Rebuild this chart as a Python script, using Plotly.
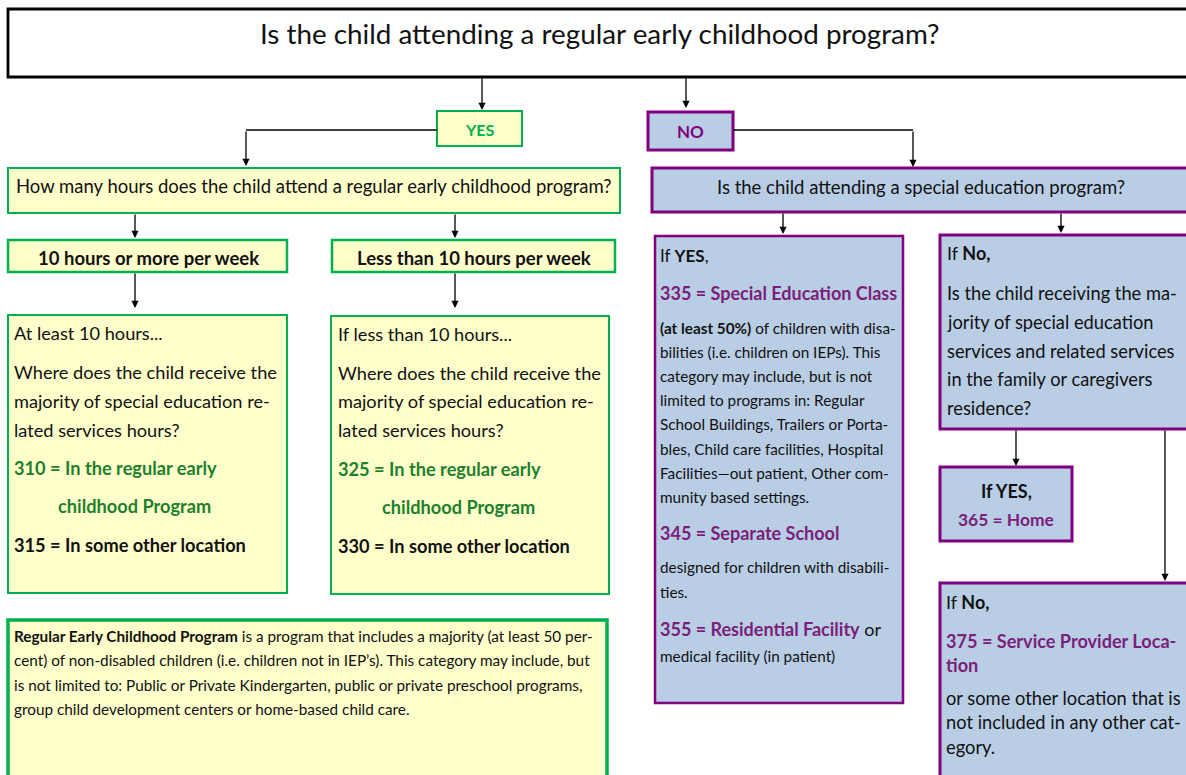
import plotly.graph_objects as go

W, H = 1186, 775
FONT = "Lato"

YELLOW = "#FFFFCC"
GREEN = "#00B050"
DKGREEN = "#1E7F2C"
BLUE = "#B9CDE5"
PURPLE = "#800080"
PTEXT = "#7A1F7A"
BLACK = "#111111"

# ---- box geometry: (x0, y0, x1, y1, fill, border, width)
box_names = ["top", "yes", "no", "hours", "ten_more", "ten_less", "more_box", "less_box",
             "definition", "sped_q", "if_yes", "if_no", "home", "provider"]
box_geom = [
    (8, 9, 1195, 77, "white", "#000000", 2.8),
    (437, 111, 522, 146, YELLOW, GREEN, 2),
    (648, 112, 733, 150, BLUE, PURPLE, 3),
    (8, 168, 620, 213, YELLOW, GREEN, 2),
    (8, 240, 287, 272, YELLOW, GREEN, 2.5),
    (332, 240, 615, 272, YELLOW, GREEN, 2.5),
    (8, 315, 287, 593, YELLOW, GREEN, 2),
    (331, 316, 609, 594, YELLOW, GREEN, 2),
    (8, 620, 607, 790, YELLOW, GREEN, 3.5),
    (652, 168, 1195, 212, BLUE, PURPLE, 3),
    (655, 236, 903, 703, BLUE, PURPLE, 2.5),
    (940, 235, 1195, 429, BLUE, PURPLE, 3),
    (940, 467, 1072, 541, BLUE, PURPLE, 3),
    (940, 583, 1195, 790, BLUE, PURPLE, 3),
]

# ---- connector polylines (last segment gets an arrowhead)
connectors = [
    [(482, 77), (482, 110)],
    [(686, 77), (686, 108)],
    [(437, 130), (246, 130), (246, 166)],
    [(733, 130), (913, 130), (913, 167)],
    [(135, 213), (135, 238)],
    [(455, 213), (455, 238)],
    [(135, 272), (135, 308)],
    [(455, 272), (455, 308)],
    [(783, 212), (783, 234)],
    [(1061, 212), (1061, 233)],
    [(1016, 429), (1016, 466)],
    [(1165, 429), (1165, 581)],
]

g = lambda s: f"<span style='color:{DKGREEN}'><b>{s}</b></span>"
p = lambda s: f"<span style='color:{PTEXT}'><b>{s}</b></span>"

# ---- centered text lines: (x, y, text, size)
centered_texts = [
    (600, 33, "Is the child attending a regular early childhood program?", 27.8),
    (480, 129, f"<span style='color:{GREEN}'><b>YES</b></span>", 16),
    (690, 131, f"<span style='color:{PURPLE}'><b>NO</b></span>", 17),
    (314, 186, "How many hours does the child attend a regular early childhood program?", 18.5),
    (148, 258, "<b>10 hours or more per week</b>", 18.5),
    (474, 258, "<b>Less than 10 hours per week</b>", 18.5),
    (921, 187, "Is the child attending a special education program?", 18.5),
    (1006, 491, "<b>If YES,</b>", 18),
    (1006, 519, p("365 = Home"), 17.4),
]

# ---- left-aligned text lines: (x, y, text, size)
left_texts = [
    (12, 333, "At least 10 hours...", 18.2),
    (12, 372, "Where does the child receive the", 18.2),
    (12, 401, "majority of special education re-", 18.2),
    (12, 430, "lated services hours?", 18.2),
    (12, 468, g("310 = In the regular early"), 18.2),
    (56, 506, g("childhood Program"), 18.2),
    (12, 545, "<b>315 = In some other location</b>", 18.2),
    (336, 334, "If less than 10 hours...", 18.2),
    (336, 373, "Where does the child receive the", 18.2),
    (336, 401, "majority of special education re-", 18.2),
    (336, 430, "lated services hours?", 18.2),
    (336, 469, g("325 = In the regular early"), 18.2),
    (380, 507, g("childhood Program"), 18.2),
    (336, 546, "<b>330 = In some other location</b>", 18.2),
    (12, 636, "<b>Regular Early Childhood Program</b> is a program that includes a majority (at least 50 per-", 15.3),
    (12, 660, "cent) of non-disabled children (i.e. children not in IEP’s). This category may include, but", 15.3),
    (12, 685, "is not limited to: Public or Private Kindergarten, public or private preschool programs,", 15.3),
    (12, 709, "group child development centers or home-based child care.", 15.3),
    (658, 255, "If <b>YES</b>,", 17),
    (658, 293, p("335 = Special Education Class"), 18),
    (658, 328, "<b>(at least 50%)</b> of children with disa-", 15.3),
    (658, 352, "bilities (i.e. children on IEPs). This", 15.3),
    (658, 376, "category may include, but is not", 15.3),
    (658, 400, "limited to programs in: Regular", 15.3),
    (658, 424, "School Buildings, Trailers or Porta-", 15.3),
    (658, 449, "bles, Child care facilities, Hospital", 15.3),
    (658, 473, "Facilities—out patient, Other com-", 15.3),
    (658, 497, "munity based settings.", 15.3),
    (658, 533, p("345 = Separate School"), 18),
    (658, 567, "designed for children with disabili-", 15.3),
    (658, 592, "ties.", 15.3),
    (658, 629, p("355 = Residential Facility") + " or", 18),
    (658, 656, "medical facility (in patient)", 15.3),
    (945, 253, "If <b>No,</b>", 18),
    (945, 293, "Is the child receiving the ma-", 18.3),
    (945, 322, "jority of special education", 18.3),
    (945, 351, "services and related services", 18.3),
    (945, 379, "in the family or caregivers", 18.3),
    (945, 408, "residence?", 18.3),
    (944, 602, "If <b>No,</b>", 18),
    (944, 641, p("375 = Service Provider Loca-"), 18.1),
    (944, 665, p("tion"), 18.1),
    (944, 698, "or some other location that is", 18.3),
    (944, 722, "not included in any other cat-", 18.3),
    (944, 747, "egory.", 18.3),
]

fig = go.Figure()
shapes = []
for (x0, y0, x1, y1, fill, line, lw) in box_geom:
    shapes.append(dict(type="rect", xref="x", yref="y", x0=x0, y0=y0, x1=x1, y1=y1,
                       fillcolor=fill, line=dict(color=line, width=lw), layer="below"))

annotations = []
for pts in connectors:
    for (a, b) in zip(pts[:-2], pts[1:-1]):
        shapes.append(dict(type="line", xref="x", yref="y", x0=a[0], y0=a[1], x1=b[0], y1=b[1],
                           line=dict(color="#000000", width=1.3)))
    (tx, ty), (hx, hy) = pts[-2], pts[-1]
    annotations.append(dict(x=hx, y=hy, ax=tx, ay=ty, xref="x", yref="y", axref="x", ayref="y",
                            text="", showarrow=True, arrowhead=2, arrowsize=1.1, arrowwidth=1.3,
                            arrowcolor="#000000", standoff=0, startstandoff=0))

for (x, y, t, s) in centered_texts:
    annotations.append(dict(x=x, y=y, xref="x", yref="y", text=t, showarrow=False,
                            xanchor="center", yanchor="middle",
                            font=dict(family=FONT, size=s, color=BLACK)))
for (x, y, t, s) in left_texts:
    annotations.append(dict(x=x, y=y, xref="x", yref="y", text=t, showarrow=False,
                            xanchor="left", yanchor="middle",
                            font=dict(family=FONT, size=s, color=BLACK)))

fig.update_layout(
    width=W, height=H, margin=dict(l=0, r=0, t=0, b=0),
    paper_bgcolor="white", plot_bgcolor="white",
    xaxis=dict(range=[0, W], visible=False, fixedrange=True),
    yaxis=dict(range=[H, 0], visible=False, fixedrange=True),
    shapes=shapes, annotations=annotations, showlegend=False,
)
fig.write_html("out.html", config={"displayModeBar": False},
               post_script="document.body.style.margin='0';document.body.style.overflow='hidden';")
